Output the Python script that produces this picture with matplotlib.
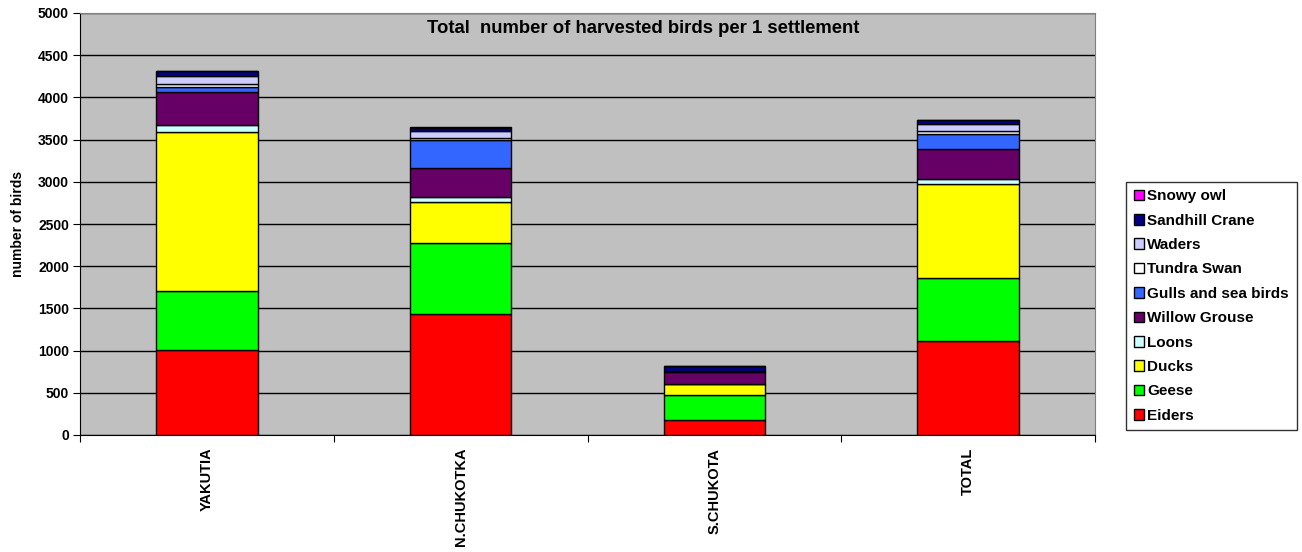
import numpy as np
import matplotlib.pyplot as plt

plt.rcParams['font.family'] = ['Liberation Sans', 'DejaVu Sans']
plt.rcParams['font.weight'] = 'bold'

regions = ['YAKUTIA', 'N.CHUKOTKA', 'S.CHUKOTA', 'TOTAL']

# birds per settlement, stacked bottom to top
eiders = [1008, 1434, 178, 1114]
geese = [700, 842, 300, 747]
ducks = [1877, 483, 127, 1115]
loons = [88, 63, 0, 63]
willow_grouse = [395, 338, 145, 355]
gulls = [55, 340, 12, 174]
tundra_swan = [38, 15, 0, 28]
waders = [88, 87, 0, 83]
sandhill_crane = [67, 40, 56, 55]
snowy_owl = [2, 2, 0, 2]

series = [
    ('Eiders', eiders, '#FF0000'),
    ('Geese', geese, '#00FF00'),
    ('Ducks', ducks, '#FFFF00'),
    ('Loons', loons, '#CCFFFF'),
    ('Willow Grouse', willow_grouse, '#660066'),
    ('Gulls and sea birds', gulls, '#3366FF'),
    ('Tundra Swan', tundra_swan, '#FFFFFF'),
    ('Waders', waders, '#CCCCFF'),
    ('Sandhill Crane', sandhill_crane, '#000080'),
    ('Snowy owl', snowy_owl, '#FF00FF'),
]

fig = plt.figure(figsize=(13.02, 5.52), dpi=100)
ax = fig.add_axes([80 / 1302, 1 - 435 / 552, 1015 / 1302, 422 / 552])
ax.set_facecolor('#C0C0C0')

x = np.arange(len(regions)) + 0.5
bottom = np.zeros(len(regions))
for name, vals, col in series:
    ax.bar(x, vals, width=0.4, bottom=bottom, color=col, edgecolor='black',
           linewidth=1, label=name, zorder=3)
    bottom += np.array(vals)

ax.set_xlim(0, len(regions))
ax.set_ylim(0, 5000)
ax.set_yticks(np.arange(0, 5001, 500))
ax.yaxis.grid(True, color='black', linewidth=1, zorder=1)
ax.tick_params(axis='y', labelsize=10, length=5, direction='out', pad=3)

ax.set_xticks(np.arange(len(regions) + 1))
ax.set_xticklabels([])
ax.set_xticks(x, minor=True)
ax.set_xticklabels(regions, minor=True, rotation=90, fontsize=10.5, fontweight='bold')
ax.tick_params(axis='x', which='major', length=5, direction='out')
ax.tick_params(axis='x', which='minor', length=0, pad=9)

for s in ['top', 'right']:
    ax.spines[s].set_color('#808080')
for s in ['left', 'bottom']:
    ax.spines[s].set_color('black')

ax.set_ylabel('number of birds', fontsize=10, fontweight='bold', labelpad=9)
ax.text(0.555, 0.964, 'Total  number of harvested birds per 1 settlement',
        transform=ax.transAxes, ha='center', va='center', fontsize=13.3,
        fontweight='bold')

handles, labels = ax.get_legend_handles_labels()
leg = fig.legend(handles[::-1], labels[::-1], loc='center left',
                 bbox_to_anchor=(1126 / 1302, 1 - 306 / 552), fontsize=11,
                 frameon=True, fancybox=False, edgecolor='black',
                 handlelength=0.7, handleheight=0.7, handletextpad=0.2,
                 labelspacing=0.68, borderpad=0.5, borderaxespad=0)
leg.get_frame().set_linewidth(1)

fig.savefig('out.png', dpi=100)
